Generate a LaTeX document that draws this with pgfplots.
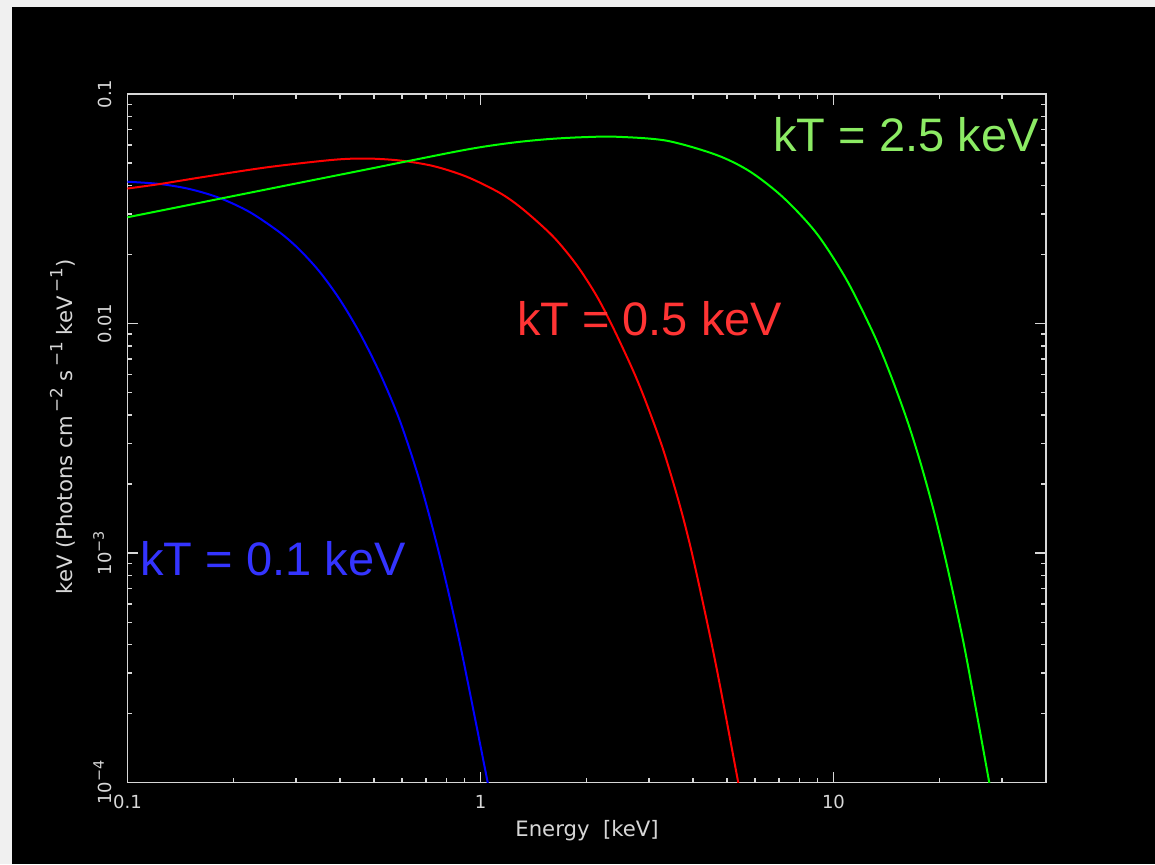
\documentclass[border=0pt]{standalone}
\usepackage{fontspec}
\setmainfont{DejaVu Sans}
\newfontfamily\annfont{Liberation Sans}
\usepackage{pgfplots}
\pgfplotsset{compat=1.18}
\definecolor{axgray}{RGB}{215,215,215}
\definecolor{txtgreen}{RGB}{140,235,100}
\definecolor{txtred}{RGB}{255,52,52}
\definecolor{txtblue}{RGB}{52,52,255}
\newcommand{\sexp}[1]{\raisebox{0.42em}{\fontsize{7.2}{8}\selectfont #1}}
\newcommand{\lexp}[1]{\,\raisebox{0.45em}{\fontsize{8.4}{9}\selectfont #1}}
\begin{document}
\begin{tikzpicture}
\fill[black!6] (0pt,0pt) rectangle (577.5pt,432pt);
\fill[black] (6pt,0pt) rectangle (577.5pt,428.5pt);
\begin{axis}[
  at={(63.75pt,40.65pt)}, anchor=south west,
  width=459.25pt, height=344.35pt, scale only axis,
  xmode=log, ymode=log,
  xmin=0.1, xmax=40, ymin=1e-4, ymax=0.1,
  axis line style={axgray, line width=0.75pt},
  every tick/.style={axgray, line width=0.75pt},
  major tick length=5.5pt, minor tick length=2.5pt,
  xtick={0.1,1,10}, xticklabels={0.1,1,10},
  minor xtick={0.2,0.3,0.4,0.5,0.6,0.7,0.8,0.9,2,3,4,5,6,7,8,9,20,30},
  ytick={1e-4,1e-3,1e-2,1e-1},
  yticklabels={10\sexp{−4},10\sexp{−3},0.01,0.1},
  minor ytick={2e-4,3e-4,4e-4,5e-4,6e-4,7e-4,8e-4,9e-4,2e-3,3e-3,4e-3,5e-3,6e-3,7e-3,8e-3,9e-3,0.02,0.03,0.04,0.05,0.06,0.07,0.08,0.09},
  tick label style={font=\fontsize{9}{10}\selectfont, text=axgray, inner sep=0pt},
  xticklabel shift=6pt,
  yticklabel style={rotate=90, anchor=south},
  yticklabel shift=7.75pt,
  xlabel={Energy\ \ [keV]},
  ylabel={keV (Photons cm\lexp{−2} s\lexp{−1} keV\lexp{−1})},
  label style={font=\fontsize{10.6}{12}\selectfont, text=axgray, inner sep=0pt},
  xlabel style={at={(axis description cs:0.5003,-0.0788)}, anchor=base},
  ylabel style={at={(axis description cs:-0.0604,0.5165)}, anchor=base},
]
\addplot[blue, line width=1pt, smooth] coordinates {
(0.1,0.041494) (0.12360,0.040552) (0.15034,0.038531) (0.18283,0.035203) (0.22234,0.030553)
(0.27040,0.024910) (0.30816,0.020880) (0.35103,0.016744) (0.39990,0.012696) (0.45560,0.0090648)
(0.51911,0.0060686) (0.59135,0.0037653) (0.67380,0.0020422) (0.76795,0.00096262) (0.87485,0.00040228)
(1.0454,0.00010233) (1.0779,0.0000792)};
\addplot[red, line width=1pt, smooth] coordinates {
(0.1,0.038763) (0.12360,0.040552) (0.16047,0.043278) (0.24800,0.047935) (0.38282,0.051684)
(0.47597,0.052362) (0.59135,0.051323) (0.73504,0.048564) (0.91398,0.043627) (1.1356,0.037054)
(1.3220,0.031393) (1.6079,0.023906) (1.8730,0.017993) (2.1339,0.013189) (2.3779,0.0095686)
(2.7093,0.0062163) (2.9573,0.0044646) (3.2955,0.0028141) (3.6737,0.0016055) (4.0069,0.00094350)
(4.6157,0.00034257) (5.3739,0.0001) (5.5051,0.0000808)};
\addplot[green, line width=1pt, smooth] coordinates {
(0.1,0.029062) (0.14085,0.032288) (0.19940,0.035941) (0.30816,0.041085) (0.47597,0.046953)
(0.81971,0.055503) (1.0184,0.058934) (1.2666,0.061713) (1.5737,0.063711) (1.9555,0.064871)
(2.4312,0.065145) (3.3700,0.062609) (4.6671,0.054239) (5.8003,0.045956) (7.2085,0.035416)
(8.9630,0.024686) (10.900,0.015485) (12.967,0.0090737) (14.456,0.0060747) (16.122,0.0038414)
(17.580,0.0025210) (19.177,0.0015580) (20.700,0.00096262) (22.090,0.00061294) (23.843,0.00034606)
(27.632,0.0001) (28.306,0.0000808)};
\end{axis}
\node[anchor=base west, inner sep=0pt, text=txtgreen, font=\annfont\fontsize{23.5}{26}\selectfont] at (386.5pt,356pt) {kT = 2.5 keV};
\node[anchor=base west, inner sep=0pt, text=txtred, font=\annfont\fontsize{23.5}{26}\selectfont] at (258.3pt,264.5pt) {kT = 0.5 keV};
\node[anchor=base west, inner sep=0pt, text=txtblue, font=\annfont\fontsize{23.5}{26}\selectfont] at (70pt,144.5pt) {kT = 0.1 keV};
\end{tikzpicture}
\end{document}
